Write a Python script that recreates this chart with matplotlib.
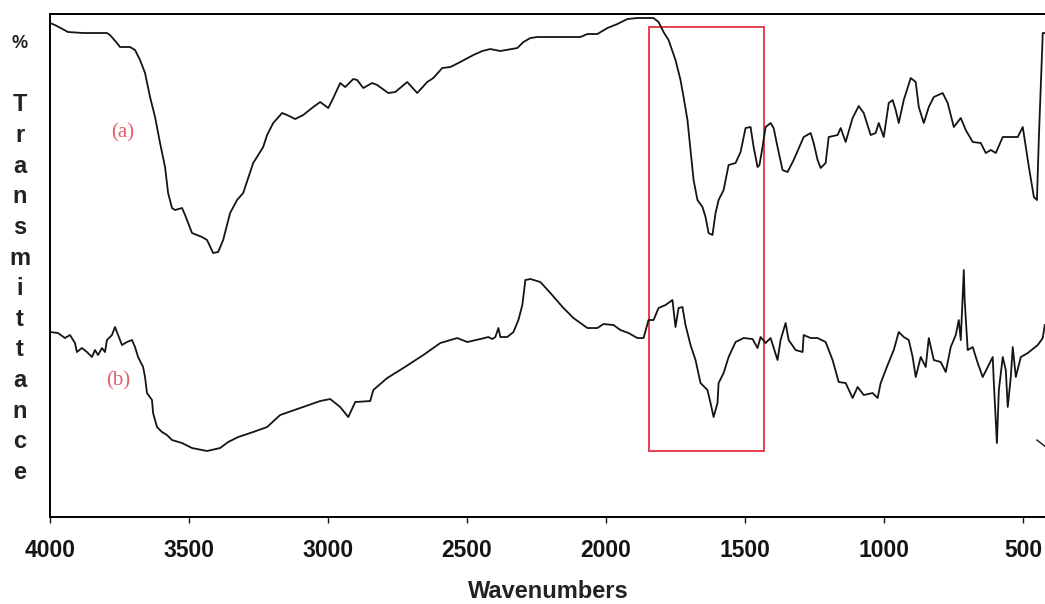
import matplotlib.pyplot as plt
from matplotlib.patches import Rectangle

# spectrum (a)
wn_a = [4000, 3982, 3935, 3881, 3795, 3784, 3759, 3748, 3712, 3694, 3676, 3658, 3640, 3622,
        3604, 3586, 3575, 3561, 3550, 3525, 3514, 3489, 3453, 3435, 3413, 3395, 3377, 3352,
        3327, 3305, 3269, 3233, 3219, 3197, 3165, 3147, 3118, 3089, 3053, 3028, 2999, 2981,
        2956, 2938, 2909, 2895, 2873, 2841, 2823, 2783, 2758, 2715, 2679, 2643, 2621, 2589,
        2560, 2531, 2477, 2445, 2416, 2380, 2319, 2297, 2272, 2247, 2092, 2067, 2031, 1995,
        1959, 1923, 1887, 1829, 1811, 1793, 1775, 1750, 1732, 1721, 1707, 1696, 1685, 1671,
        1653, 1642, 1631, 1617, 1606, 1595, 1577, 1559, 1534, 1516, 1498, 1480, 1469, 1455,
        1448, 1437, 1426, 1408, 1397, 1383, 1365, 1347, 1325, 1289, 1264, 1253, 1239, 1228,
        1210, 1199, 1167, 1156, 1138, 1113, 1091, 1073, 1048, 1030, 1019, 1001, 983, 969,
        958, 947, 929, 904, 886, 875, 857, 839, 821, 789, 771, 749, 724, 706, 681, 652, 634,
        616, 598, 573, 519, 501, 490, 479, 461, 450, 443, 429, 422]
t_a = [98.8, 98.4, 97.0, 96.8, 96.8, 96.4, 94.8, 94.0, 94.0, 93.4, 91.4, 88.8, 84.0, 80.0,
       74.8, 70.0, 64.8, 61.8, 61.4, 61.8, 60.4, 56.8, 56.0, 55.4, 52.8, 53.0, 55.4, 60.8,
       63.4, 64.8, 70.8, 74.0, 76.4, 78.8, 80.8, 80.4, 79.6, 80.4, 82.0, 83.0, 81.8, 83.8,
       86.8, 86.0, 87.6, 87.4, 85.8, 86.8, 86.4, 84.8, 85.0, 87.0, 84.8, 87.0, 87.8, 89.8,
       90.0, 90.8, 92.4, 93.2, 93.6, 93.2, 93.8, 95.0, 95.8, 96.0, 96.0, 96.6, 96.6, 97.8,
       98.6, 99.6, 99.8, 99.8, 99.0, 97.0, 95.4, 91.4, 87.4, 84.0, 79.4, 73.4, 67.4, 63.4,
       62.0, 60.0, 56.8, 56.4, 60.8, 63.4, 65.4, 70.4, 70.8, 73.0, 77.8, 78.0, 74.0, 70.0,
       70.4, 74.0, 78.0, 78.8, 77.8, 74.0, 69.4, 69.0, 71.4, 76.0, 76.8, 74.8, 71.4, 69.8,
       70.8, 76.0, 76.4, 77.8, 75.0, 79.8, 82.2, 80.8, 76.4, 76.8, 78.8, 76.0, 82.8, 83.4,
       81.4, 78.8, 83.4, 87.8, 87.0, 82.0, 78.8, 82.0, 84.0, 84.8, 82.8, 78.0, 79.8, 77.4,
       75.0, 74.8, 72.8, 73.4, 72.8, 76.0, 76.0, 78.0, 74.0, 70.0, 64.0, 63.4, 76.0, 96.8,
       96.8]

# spectrum (b)
wn_b = [4000, 3971, 3946, 3928, 3910, 3903, 3885, 3867, 3849, 3838, 3827, 3813, 3802, 3795,
        3777, 3766, 3755, 3741, 3723, 3705, 3694, 3683, 3665, 3658, 3651, 3633, 3629, 3615,
        3597, 3579, 3561, 3525, 3489, 3435, 3388, 3359, 3323, 3269, 3219, 3172, 3100, 3028,
        2992, 2956, 2927, 2902, 2848, 2837, 2787, 2729, 2657, 2596, 2535, 2499, 2452, 2423,
        2409, 2398, 2387, 2380, 2355, 2333, 2315, 2301, 2290, 2272, 2236, 2200, 2153, 2117,
        2067, 2031, 2009, 1973, 1948, 1919, 1887, 1865, 1847, 1829, 1811, 1786, 1761, 1750,
        1739, 1725, 1714, 1696, 1678, 1660, 1635, 1624, 1613, 1599, 1595, 1577, 1559, 1534,
        1505, 1473, 1455, 1444, 1426, 1408, 1383, 1372, 1354, 1343, 1318, 1293, 1289, 1264,
        1239, 1210, 1185, 1163, 1138, 1113, 1095, 1073, 1041, 1023, 1012, 987, 965, 947, 929,
        911, 897, 886, 868, 850, 839, 821, 796, 778, 760, 742, 731, 724, 717, 713, 710, 699,
        681, 663, 645, 627, 609, 605, 594, 587, 573, 562, 555, 544, 537, 526, 508, 483, 447,
        429, 422]
t_b = [37.0, 36.8, 35.8, 36.4, 34.8, 33.0, 33.8, 33.0, 32.0, 33.4, 32.4, 33.8, 33.0, 35.4,
       36.4, 38.0, 36.4, 34.4, 35.0, 35.4, 34.0, 32.0, 30.0, 28.0, 24.8, 23.4, 20.8, 18.0,
       17.0, 16.4, 15.4, 14.8, 13.8, 13.2, 13.8, 15.0, 16.0, 17.0, 18.0, 20.4, 21.8, 23.2,
       23.6, 22.0, 20.0, 23.0, 23.2, 25.4, 27.8, 29.8, 32.4, 34.8, 35.8, 35.0, 35.6, 36.0,
       35.6, 36.0, 37.8, 36.0, 36.0, 37.0, 39.4, 42.4, 47.4, 47.6, 47.0, 44.8, 41.8, 39.8,
       37.8, 37.8, 38.6, 38.4, 37.4, 36.8, 35.8, 35.8, 39.4, 39.4, 41.8, 42.4, 43.4, 38.0,
       41.8, 42.0, 38.4, 34.4, 31.4, 26.8, 25.4, 22.8, 20.0, 22.8, 26.8, 28.8, 32.0, 35.0,
       35.8, 35.6, 33.8, 36.0, 34.8, 35.8, 31.4, 35.4, 38.8, 35.4, 33.4, 33.0, 36.4, 35.8,
       35.8, 35.0, 31.4, 27.0, 26.8, 23.8, 26.0, 24.4, 24.8, 23.8, 26.8, 30.4, 33.4, 37.0,
       36.0, 35.4, 32.0, 28.0, 32.0, 30.0, 35.8, 31.4, 31.0, 29.0, 34.0, 36.4, 39.4, 35.4,
       44.0, 49.4, 43.4, 33.4, 34.0, 30.8, 28.0, 30.0, 32.0, 26.8, 14.8, 25.4, 32.0, 29.4,
       22.0, 28.0, 34.0, 28.0, 32.0, 32.8, 34.4, 35.8, 38.4]

# stray trace piece at the low-wavenumber end
wn_tail = [450, 418]
t_tail = [15.4, 14.0]

# highlighted carbonyl region
box_wn = (1847, 1433)
box_t = (13.2, 98.0)

ticks = [4000, 3500, 3000, 2500, 2000, 1500, 1000, 500]
ylabel_chars = ['T', 'r', 'a', 'n', 's', 'm', 'i', 't', 't', 'a', 'n', 'c', 'e']

plt.rcParams['font.family'] = ['Liberation Sans', 'DejaVu Sans']

fig = plt.figure(figsize=(10.45, 6.04), dpi=100)
ax = fig.add_axes([0.0478, 0.144, 0.9522, 0.8328])

ax.plot(wn_a, t_a, color='#141414', lw=1.3)
ax.plot(wn_b, t_b, color='#141414', lw=1.3)
ax.plot(wn_tail, t_tail, color='#141414', lw=1.0)

ax.add_patch(Rectangle((box_wn[1], box_t[0]), box_wn[0] - box_wn[1], box_t[1] - box_t[0],
                       fill=False, edgecolor='#e8404f', lw=1.4))

ax.text(3737, 76.8, '(a)', color='#e2606c', fontsize=15, family='Liberation Serif',
        ha='center', va='center')
ax.text(3755, 27.2, '(b)', color='#e2606c', fontsize=15, family='Liberation Serif',
        ha='center', va='center')

ax.set_xlim(4000, 421)
ax.set_ylim(0, 100.6)
ax.set_xticks(ticks)
ax.set_xticklabels([str(t) for t in ticks], fontsize=16.5, fontweight='bold')
ax.tick_params(axis='x', direction='out', length=4, width=1, pad=12, colors='#141414')
ax.set_yticks([])
ax.spines['right'].set_visible(False)
for s in ['top', 'bottom', 'left']:
    ax.spines[s].set_linewidth(1.4)

fig.text(0.5244, 0.0199, 'Wavenumbers', fontsize=17, fontweight='bold',
         ha='center', va='center', color='#222222')

# stacked vertical axis title
fig.text(20 / 1045, 1 - 43 / 604, '%', fontsize=13, fontweight='bold',
         ha='center', va='center', color='#222222')
for i, ch in enumerate(ylabel_chars):
    fig.text(20 / 1045, 1 - (105 + i * 30.6) / 604, ch, fontsize=17, fontweight='bold',
             ha='center', va='center', color='#222222')

fig.savefig('out.png', dpi=100)
